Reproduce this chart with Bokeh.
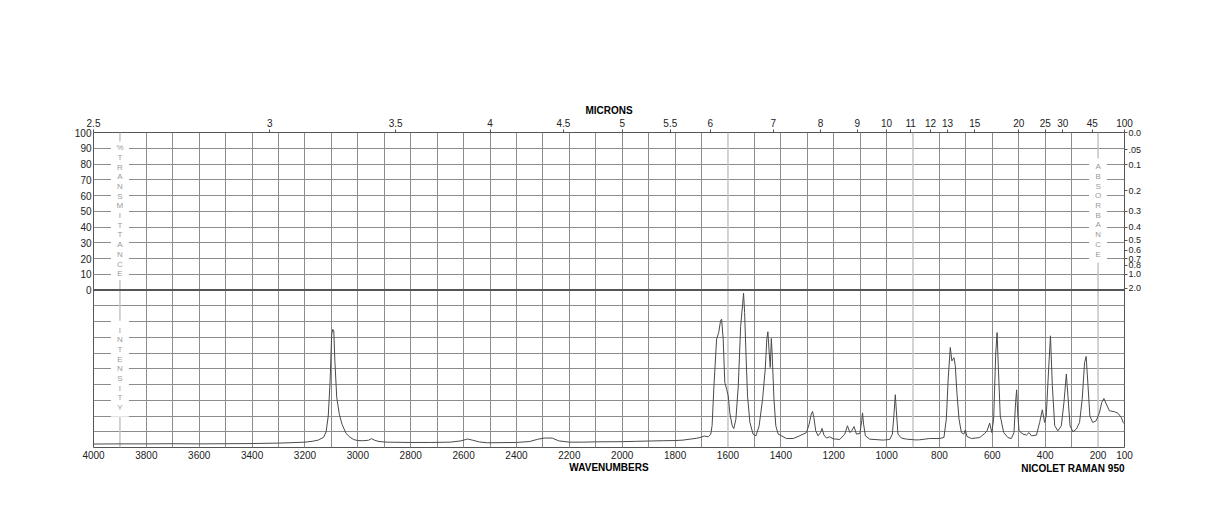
from bokeh.plotting import figure
from bokeh.models import (Range1d, LinearAxis, FixedTicker, CustomJSTickFormatter,
                          Span, Title, ColumnDataSource)
from bokeh.core.properties import value
from bokeh.embed import file_html
from bokeh.resources import INLINE

# ---------------- data ----------------
wavenumber = [4000, 3900, 3800, 3700, 3600, 3500, 3400, 3300, 3260, 3230, 3200, 3170, 3150,
              3130, 3120, 3112, 3105, 3099, 3095, 3091, 3087, 3080, 3070, 3060, 3045, 3030,
              3015, 3000, 2980, 2960, 2948, 2935, 2920, 2890, 2800, 2726, 2650, 2610, 2585,
              2565, 2540, 2510, 2400, 2350, 2320, 2295, 2265, 2240, 2200, 2150, 2100, 2000,
              1950, 1900, 1845, 1800, 1770, 1743, 1718, 1706, 1690, 1675, 1665, 1660, 1653,
              1643, 1635, 1628, 1624, 1618, 1612, 1605, 1599, 1593, 1584, 1578, 1570, 1561,
              1552, 1545, 1541, 1537, 1532, 1526, 1517, 1505, 1494, 1482, 1469, 1459, 1453,
              1449, 1444, 1440, 1436, 1433, 1426, 1419, 1410, 1397, 1379, 1353, 1328, 1303,
              1293, 1285, 1280, 1275, 1268, 1259, 1250, 1244, 1237, 1227, 1215, 1202, 1177,
              1158, 1148, 1139, 1132, 1123, 1114, 1101, 1094, 1091, 1087, 1080, 1064, 1013,
              988, 978, 972, 967, 963, 957, 944, 925, 888, 875, 837, 799, 783, 774, 767, 759,
              753, 745, 740, 734, 726, 717, 708, 702, 696, 679, 648, 629, 620, 610, 602, 595,
              587, 582, 577, 570, 557, 541, 528, 518, 512, 508, 504, 499, 484, 471, 461, 452,
              433, 421, 411, 402, 396, 387, 380, 373, 364, 352, 339, 329, 320, 314, 306, 295,
              282, 270, 260, 251, 245, 238, 231, 220, 207, 195, 186, 178, 169, 157, 138, 125,
              112, 105, 100]
intensity = [2.2, 2.3, 2.3, 2.4, 2.3, 2.4, 2.5, 2.8, 3.0, 3.2, 3.4, 4.0, 4.7,
             6.4, 10.0, 20.0, 42, 72, 75, 74, 55, 32, 21, 14.8, 9.0, 6.5,
             5.0, 4.4, 4.3, 4.6, 5.6, 4.5, 3.8, 3.4, 3.2, 3.2, 3.4, 4.2, 5.4,
             4.6, 3.5, 3.0, 3.2, 3.8, 5.2, 6.0, 6.0, 4.2, 3.4, 3.4, 3.6, 3.7,
             3.9, 4.1, 4.3, 4.4, 4.7, 5.3, 5.9, 6.3, 7.3, 6.8, 8.5, 14, 39,
             68.8, 73, 80.4, 81.5, 68.8, 41.3, 37, 32.8, 22, 13.8, 12, 18, 39,
             77, 90, 98, 85.7, 60, 32.8, 15.9, 8.5, 7.4, 13.8, 30.7, 49.8, 68.8,
             73.5, 60, 50.8, 69.2, 60, 30.7, 13.8, 8.5, 7.4, 5.7, 5.7, 7.5, 9.5,
             14.8, 21.2, 22.9, 19, 10.6, 7.4, 9.5, 12.1, 7.9, 6.0, 6.8, 5.5, 5.1,
             8.5, 13.8, 9.5, 10.6, 13.3, 8.5, 8.9, 17, 22, 14.8, 7.4, 5.3, 4.7,
             5.1, 8.5, 21.2, 33.5, 23.3, 8.5, 6.0, 5.3, 4.8, 4.9, 5.7, 5.7, 6.4, 18, 43.4, 63.5,
             55, 57, 51.9, 35, 18, 9.5, 8.5, 11.2, 7, 5.7, 6.3, 8.9, 10.6, 15.5, 9.5, 18,
             60, 73, 49.8, 20, 9.5, 6.3, 5.7, 9.5, 28.6, 36.6, 22, 10.6, 8.5, 7.9, 9.5, 7.4,
             7.9, 15.9, 23.9, 15.9, 20, 49.8, 70.9, 39.2, 13.8, 10.6, 13.8, 28.6, 46.6, 32.8, 13.8, 10,
             11.7, 15.9, 30.7, 54, 57.8, 39.2, 20, 15.9, 17, 22, 28.6, 31.1, 27.6, 23.3, 22.7, 21.8,
             19, 15.9, 15]

wavenumber_ticks = [4000, 3800, 3600, 3400, 3200, 3000, 2800, 2600, 2400, 2200, 2000,
                    1800, 1600, 1400, 1200, 1000, 800, 600, 400, 200, 100]
micron_ticks = [2.5, 3, 3.5, 4, 4.5, 5, 5.5, 6, 7, 8, 9, 10, 11, 12, 13, 15, 20, 25, 30, 45, 100]
transmittance_ticks = [0, 10, 20, 30, 40, 50, 60, 70, 80, 90, 100]
absorbance_ticks = [0.0, 0.05, 0.1, 0.2, 0.3, 0.4, 0.5, 0.6, 0.7, 0.8, 1.0, 2.0]
absorbance_labels = ["0.0", ".05", "0.1", "0.2", "0.3", "0.4", "0.5", "0.6", "0.7", "0.8", "1.0", "2.0"]
light_grid = [3900, 1600, 900, 200]

FONT = "Liberation Sans"
GRID = "#8c8c8c"
DARK = "#555555"

# intensity panel occupies y 0..100, transmittance panel y 100..200
p = figure(frame_width=1031, frame_height=315,
           min_border_left=93, min_border_top=132, min_border_right=60, min_border_bottom=50,
           x_range=Range1d(4000, 100), y_range=Range1d(0, 200),
           x_axis_location=None, y_axis_location=None,
           output_backend="svg", toolbar_location=None)
p.background_fill_color = "white"
p.border_fill_color = "white"
p.outline_line_color = DARK
p.outline_line_width = 1

p.xgrid.ticker = FixedTicker(ticks=[w for w in range(200, 4000, 100) if w not in light_grid])
p.ygrid.ticker = FixedTicker(ticks=[v for v in range(10, 200, 10) if v != 100])
p.xgrid.grid_line_color = GRID
p.ygrid.grid_line_color = GRID
p.xgrid.grid_line_width = 1
p.ygrid.grid_line_width = 1

for w in light_grid:
    p.add_layout(Span(location=w, dimension="height", line_color="#c4c4c4",
                      line_width=1.5, level="underlay"))

p.add_layout(Span(location=100, dimension="width", line_color=DARK, line_width=2))

def style_axis(ax, size="10px"):
    ax.axis_line_color = None
    ax.major_label_text_font = FONT
    ax.major_label_text_font_size = size
    ax.major_label_text_color = "#222222"
    ax.axis_label_text_font = FONT
    ax.axis_label_text_font_size = "10px"
    ax.axis_label_text_font_style = "bold"
    ax.axis_label_text_color = "#000000"
    ax.major_tick_line_color = DARK
    ax.major_tick_in = 0
    ax.minor_tick_line_color = None

bottom = LinearAxis(ticker=FixedTicker(ticks=wavenumber_ticks), axis_label="WAVENUMBERS")
style_axis(bottom)
bottom.major_tick_out = 0
bottom.major_label_standoff = 3
bottom.axis_label_standoff = 0
p.add_layout(bottom, "below")

p.add_layout(Title(text="NICOLET RAMAN 950", align="right", vertical_align="top",
                   standoff=-26, text_font=FONT, text_font_size="10px",
                   text_font_style="bold", text_color="#000000"), "below")

top = LinearAxis(ticker=FixedTicker(ticks=[10000.0 / m for m in micron_ticks]),
                 formatter=CustomJSTickFormatter(code="const m = 10000/tick; return String(Math.round(m*10)/10);"),
                 axis_label="MICRONS")
style_axis(top)
top.major_tick_out = 3
top.major_label_standoff = 3
top.axis_label_standoff = 0
p.add_layout(top, "above")

left = LinearAxis(ticker=FixedTicker(ticks=[100 + t for t in transmittance_ticks]),
                  formatter=CustomJSTickFormatter(code="return (tick-100).toFixed(0);"))
style_axis(left)
left.major_tick_out = 0
left.major_label_standoff = 2
p.add_layout(left, "left")

right = LinearAxis(ticker=FixedTicker(ticks=[100 + 100 * 10 ** (-a) for a in absorbance_ticks]),
                   formatter=CustomJSTickFormatter(
                       args=dict(vals=absorbance_ticks, labs=absorbance_labels),
                       code="""
const a = Math.abs(-Math.log10((tick-100)/100));
for (let i = 0; i < vals.length; i++) { if (Math.abs(vals[i]-a) < 1e-6) return labs[i]; }
return '';"""))
style_axis(right, "9px")
right.major_tick_out = 3
right.major_label_standoff = 1
p.add_layout(right, "right")

# vertical stacked side labels with white backing
def side_label(word, x, yc, half_h):
    p.rect(x=[x], y=[yc], width=18, height=2 * half_h, width_units="screen",
           fill_color="white", line_color=None)
    n = len(word)
    spacing = 6.15
    ys = [yc + spacing * ((n - 1) / 2 - i) for i in range(n)]
    p.text(x=[x] * n, y=ys, text=list(word), text_align="center", text_baseline="middle",
           text_font=value(FONT), text_font_size="8px", text_color="#9a9a9a")

side_label("%TRANSMITTANCE", 3900, 150.3, 44)
side_label("INTENSITY", 3900, 50, 30.5)
side_label("ABSORBANCE", 200, 150.5, 33)

src = ColumnDataSource(dict(x=wavenumber, y=intensity))
p.line("x", "y", source=src, line_color="#4a4a4a", line_width=1)

open("out.html", "w").write(file_html(p, INLINE))
